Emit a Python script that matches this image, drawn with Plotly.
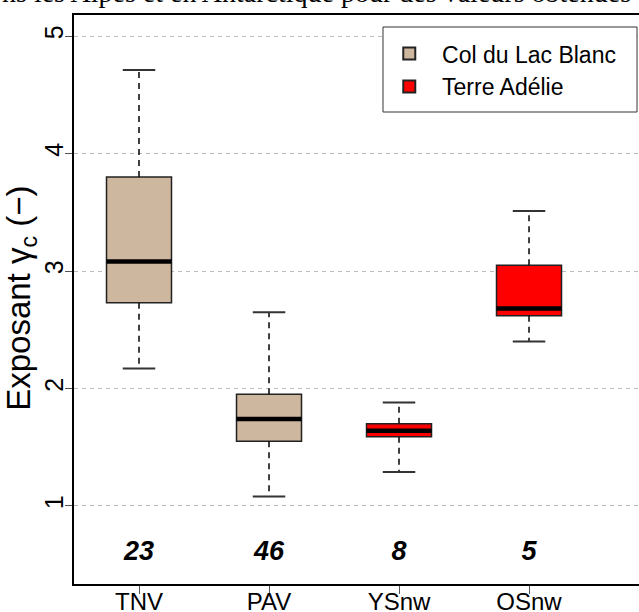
import plotly.graph_objects as go

categories = ["TNV", "PAV", "YSnw", "OSnw"]
groups = ["Col du Lac Blanc", "Col du Lac Blanc", "Terre Adélie", "Terre Adélie"]
lower_whisker = [2.17, 1.08, 1.29, 2.40]
q1 = [2.73, 1.55, 1.59, 2.62]
median = [3.08, 1.74, 1.64, 2.68]
q3 = [3.80, 1.95, 1.70, 3.05]
upper_whisker = [4.71, 2.65, 1.88, 3.51]
counts = ["23", "46", "8", "5"]
y_ticks = [1, 2, 3, 4, 5]
caption = "ns les Alpes et en Antarctique pour des valeurs obtenues"
y_title = "Exposant γ<sub>c</sub> (−)"

group_colors = {"Col du Lac Blanc": "#CDB79E", "Terre Adélie": "#FF0000"}
pos = [i + 1 for i in range(len(categories))]
BOX_HALF = 0.25
CAP_HALF = 0.125
NB = "\u00a0"

fig = go.Figure()

# whiskers (dashed)
wx, wy = [], []
for p, a, b, c, d in zip(pos, lower_whisker, q1, q3, upper_whisker):
    wx += [p, p, None, p, p, None]
    wy += [c, d, None, b, a, None]
fig.add_trace(go.Scatter(x=wx, y=wy, mode="lines", showlegend=False, hoverinfo="skip",
                         line=dict(color="#111111", width=1.6, dash="6px,5px")))
# caps
cx, cy = [], []
for p, a, d in zip(pos, lower_whisker, upper_whisker):
    cx += [p - CAP_HALF, p + CAP_HALF, None, p - CAP_HALF, p + CAP_HALF, None]
    cy += [d, d, None, a, a, None]
fig.add_trace(go.Scatter(x=cx, y=cy, mode="lines", showlegend=False, hoverinfo="skip",
                         line=dict(color="#333333", width=2)))

# boxes
for g in ["Col du Lac Blanc", "Terre Adélie"]:
    idx = [i for i in range(len(categories)) if groups[i] == g]
    fig.add_trace(go.Bar(
        x=[pos[i] for i in idx],
        y=[q3[i] - q1[i] for i in idx],
        base=[q1[i] for i in idx],
        width=BOX_HALF * 2,
        name=NB * 2 + g,
        marker=dict(color=group_colors[g], line=dict(color="#222222", width=1.5)),
    ))

# medians
mx, my = [], []
for p, m in zip(pos, median):
    mx += [p - BOX_HALF, p + BOX_HALF, None]
    my += [m, m, None]
fig.add_trace(go.Scatter(x=mx, y=my, mode="lines", showlegend=False, hoverinfo="skip",
                         line=dict(color="black", width=4.5)))

# counts
fig.add_trace(go.Scatter(x=pos, y=[0.6] * len(pos), mode="text", text=[f"<b><i>{c}</i></b>" for c in counts],
                         showlegend=False, hoverinfo="skip",
                         textfont=dict(family="Liberation Sans, Arial", size=27, color="black")))

fig.add_annotation(text=caption, xref="paper", yref="paper", x=-0.131, y=1.039,
                   xanchor="left", yanchor="middle", showarrow=False,
                   font=dict(family="Liberation Serif, Times New Roman, serif", size=28, color="black"))

fig.add_annotation(text=y_title, xref="paper", yref="paper", x=-0.093, y=0.502,
                   xanchor="center", yanchor="middle", textangle=-90, showarrow=False,
                   font=dict(family="Liberation Sans, Arial", size=33, color="black"))

# legend frame
fig.add_shape(type="rect", xref="paper", yref="paper", x0=0.5469, x1=0.9965, y0=0.8295, y1=0.9789,
              fillcolor="white", line=dict(color="#333333", width=1), layer="above")

fig.update_layout(
    width=639, height=612,
    margin=dict(l=74, r=0, t=15, b=28, autoexpand=False),
    paper_bgcolor="white", plot_bgcolor="white",
    barmode="overlay",
    font=dict(family="Liberation Sans, Arial", size=24, color="black"),
    legend=dict(x=0.558, y=0.970, xanchor="left", yanchor="top",
                borderwidth=0, bgcolor="rgba(0,0,0,0)",
                font=dict(size=23), traceorder="normal", itemsizing="constant"),
    xaxis=dict(range=[0.5, 4.846], tickmode="array", tickvals=pos, ticktext=categories,
               showgrid=False, zeroline=False, showline=True, linecolor="black", linewidth=2,
               mirror=True, ticks="outside", ticklen=8, tickcolor="#555555", tickwidth=1,
               tickfont=dict(size=24), automargin=False, ticklabelstandoff=-13),
    yaxis=dict(range=[0.336, 5.179], tickmode="array", tickvals=y_ticks,
               ticktext=[str(v) for v in y_ticks], tickangle=-90,
               showgrid=True, gridcolor="#BBBBBB", gridwidth=1, griddash="4px,4px",
               zeroline=False, showline=True, linecolor="black", linewidth=2, mirror=False,
               ticks="outside", ticklen=7, tickcolor="#555555", tickwidth=1,
               tickfont=dict(size=25), automargin=False, ticklabelstandoff=-8),
)

fig.write_html("out.html", config={"displayModeBar": False},
               post_script="document.body.style.margin='0';")
